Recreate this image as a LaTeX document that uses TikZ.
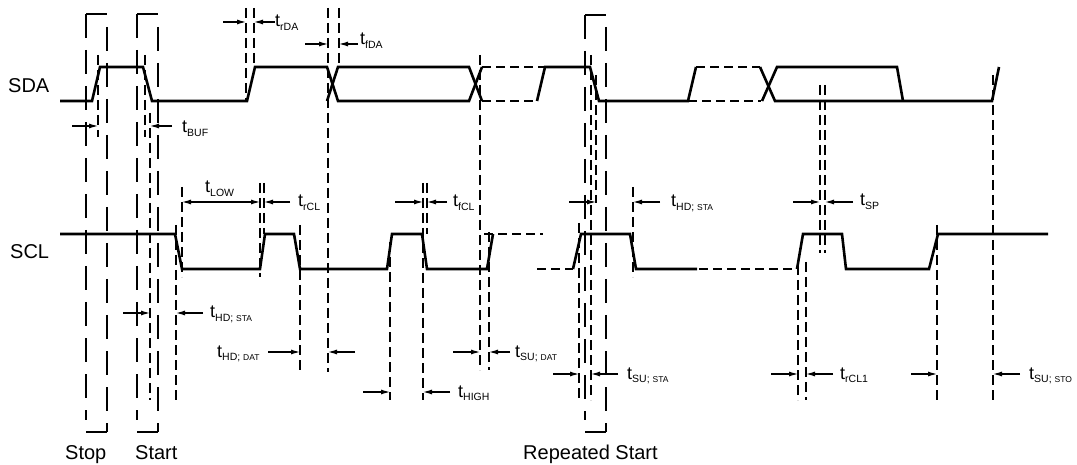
\documentclass[tikz,border=0pt]{standalone}
\usepackage{fontspec}
\setmainfont{Liberation Sans}
\usetikzlibrary{arrows.meta}
\newcommand{\tlab}[2]{{\fontsize{18}{18}\selectfont t}\raisebox{-3.5pt}{\fontsize{10.5}{11}\selectfont #1\fontsize{8.5}{9}\selectfont #2}}
\tikzset{
  wave/.style={line width=2.6pt, line join=miter, line cap=butt},
  wavedash/.style={wave, dash pattern=on 9pt off 5pt},
  guide/.style={line width=1.1pt, dash pattern=on 10pt off 5pt},
  longguide/.style={line width=1.1pt, dash pattern=on 24pt off 12pt},
  brk/.style={line width=1.1pt},
  dimarrow/.style={line width=1.1pt, -{Latex[length=9pt,width=5pt]}},
  lab/.style={anchor=base west, inner sep=0pt, font=\fontsize{20}{20}\selectfont},
  tl/.style={anchor=base west, inner sep=0pt}
}
\begin{document}
\begin{tikzpicture}[x=1pt,y=-1pt]
\useasboundingbox[fill=white] (0,0) rectangle (1077,465);

% signal labels
\node[lab] (sda) at (8,93) {SDA};
\node[lab] (scl) at (10,259) {SCL};
\node[lab] (stop) at (65,459) {Stop};
\node[lab] (start) at (135,459) {Start};
\node[lab] (rstart) at (523,459) {Repeated Start};

% ---------- SDA waveform ----------
\draw[wave] (60,101)--(92,101)--(100,67)--(143,67)--(152,101)--(247,101)--(255,67)--(327,67)--(338,101)--(469,101)--(482,67);
\draw[wave] (327,101)--(338,67)--(469,67)--(482,101);
\draw[wavedash] (482,67)--(545,67);
\draw[wavedash] (482,101)--(537,101);
\draw[wave] (537,101)--(545,67)--(590,67)--(599,101)--(688,101)--(696,67);
\draw[wavedash] (696,67)--(760,67);
\draw[wavedash] (688,101)--(761,101);
\draw[wave] (760,67)--(775,101)--(992,101)--(999,67);
\draw[wave] (762,101)--(777,67)--(897,67)--(903,101);

% ---------- SCL waveform ----------
\draw[wave] (60,234)--(175,234)--(182,269)--(260,269)--(265,234)--(294,234)--(300,269)--(387,269)--(392,234)--(422,234)--(427,269)--(487,269)--(493,234);
\draw[wavedash] (484,234)--(543,234);
\draw[wavedash] (537,269)--(573,269);
\draw[wave] (573,269)--(581,234)--(630,234)--(636,269)--(697,269);
\draw[wavedash] (699,269)--(797,269);
\draw[wave] (797,269)--(803,234)--(842,234)--(846,269)--(929,269)--(938,234)--(1048,234);

% ---------- brackets (Stop, Start, Repeated Start) ----------
\foreach \a/\b/\t in {86/107/14, 137/158/14, 585/606/15}{
  \draw[brk] (\a,\t)--(\b,\t);
  \draw[brk] (\a,432)--(\b,432);
  \draw[longguide] (\a,\t)--(\a,420);
  \draw[longguide] (\b,27)--(\b,432);
}

% ---------- guide lines ----------
\foreach \x/\ya/\yb in {
  98/55/137, 145/55/137, 150/113/400, 176/225/400, 182/187/277,
  246/8/101, 254/8/67, 260/183/277, 264/183/234,
  300/225/372, 328/8/372, 339/8/67,
  390/242/400, 423/183/400, 427/183/234,
  480/55/370, 489/232/370,
  579/223/400, 591/55/400, 596/75/203, 633/187/277,
  798/265/400, 806/262/400, 820/85/253, 825/85/253,
  937/225/400, 993/75/400}{
  \draw[guide] (\x,\ya)--(\x,\yb);
}

% ---------- dimension arrows ----------
% t_rDA
\draw[dimarrow] (223,22)--(246,22);
\draw[dimarrow] (275,22)--(254,22);
\node[tl] (trda) at (275,27) {\tlab{rDA}{}};
% t_fDA
\draw[dimarrow] (305,44)--(328,44);
\draw[dimarrow] (358,44)--(339,44);
\node[tl] (tfda) at (360,45) {\tlab{fDA}{}};
% t_BUF
\draw[dimarrow] (72,126)--(98,126);
\draw[dimarrow] (172,126)--(150,126);
\node[tl] (tbuf) at (182,133) {\tlab{BUF}{}};
% t_LOW
\draw[line width=1.1pt, {Latex[length=9pt,width=5pt]}-{Latex[length=9pt,width=5pt]}] (182,202)--(260,202);
\node[tl] (tlow) at (205,193) {\tlab{LOW}{}};
% t_rCL
\draw[dimarrow] (290,202)--(264,202);
\node[tl] (trcl) at (298,207) {\tlab{rCL}{}};
% t_fCL
\draw[dimarrow] (395,202)--(423,202);
\draw[dimarrow] (447,202)--(427,202);
\node[tl] (tfcl) at (453,207) {\tlab{fCL}{}};
% t_HD;STA (repeated start)
\draw[dimarrow] (569,202)--(596,202);
\draw[dimarrow] (660,202)--(633,202);
\node[tl] (thdsta2) at (671,207) {\tlab{HD; }{STA}};
% t_SP
\draw[dimarrow] (793,202)--(820,202);
\draw[dimarrow] (853,202)--(825,202);
\node[tl] (tsp) at (860,206) {\tlab{SP}{}};
% t_HD;STA (start)
\draw[dimarrow] (123,313)--(150,313);
\draw[dimarrow] (203,313)--(176,313);
\node[tl] (thdsta1) at (210,318) {\tlab{HD; }{STA}};
% t_HD;DAT
\draw[dimarrow] (268,352)--(300,352);
\draw[dimarrow] (355,352)--(328,352);
\node[tl] (thddat) at (217,357) {\tlab{HD; }{DAT}};
% t_SU;DAT
\draw[dimarrow] (453,352)--(480,352);
\draw[dimarrow] (510,352)--(489,352);
\node[tl] (tsudat) at (515,357) {\tlab{SU; }{DAT}};
% t_HIGH
\draw[dimarrow] (363,392)--(390,392);
\draw[dimarrow] (450,392)--(423,392);
\node[tl] (thigh) at (458,397) {\tlab{HIGH}{}};
% t_SU;STA
\draw[dimarrow] (553,374)--(579,374);
\draw[dimarrow] (618,374)--(591,374);
\node[tl] (tsusta) at (627,379) {\tlab{SU; }{STA}};
% t_rCL1
\draw[dimarrow] (771,374)--(798,374);
\draw[dimarrow] (833,374)--(806,374);
\node[tl] (trcl1) at (840,379) {\tlab{rCL1}{}};
% t_SU;STO
\draw[dimarrow] (911,374)--(937,374);
\draw[dimarrow] (1020,374)--(993,374);
\node[tl] (tsusto) at (1029,379) {\tlab{SU; }{STO}};
\end{tikzpicture}
\end{document}
